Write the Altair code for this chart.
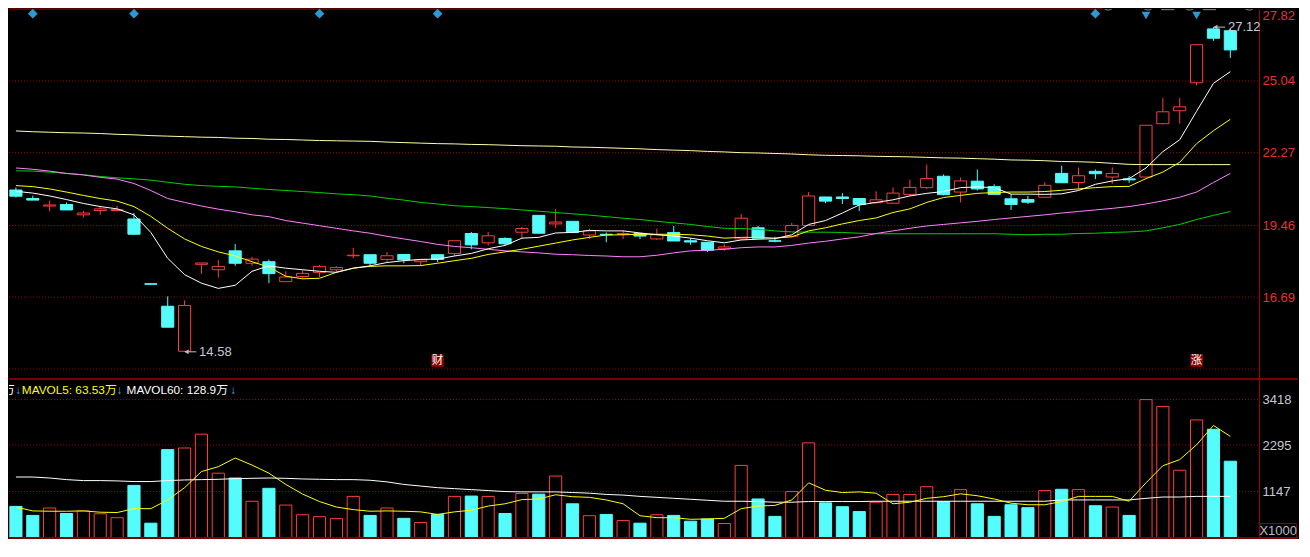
import altair as alt
import pandas as pd

# ---------------- data ----------------
opens = [20.83, 20.50, 20.21, 20.27, 19.87, 20.04, 20.04, 19.71, 17.21, 16.34,
         14.60, 17.96, 17.75, 18.48, 18.00, 18.06, 17.29, 17.49, 17.65, 17.75,
         18.29, 18.33, 18.15, 18.34, 18.06, 18.33, 18.38, 19.15, 18.79, 18.96,
         19.20, 19.85, 19.52, 19.62, 19.09, 19.12, 19.12, 19.15, 18.94, 19.19,
         18.87, 18.81, 18.56, 18.94, 19.37, 18.87, 19.04, 19.46, 20.56, 20.56,
         20.50, 20.34, 20.32, 20.66, 20.92, 21.36, 20.75, 21.17, 20.96, 20.49,
         20.46, 20.55, 21.47, 21.12, 21.55, 21.33, 21.26, 21.33, 23.39, 23.89,
         24.97, 27.05, 26.98]
highs = [20.93, 20.61, 20.42, 20.35, 20.02, 20.22, 20.22, 19.94, 17.21, 16.72,
         16.57, 18.01, 18.13, 18.74, 18.25, 18.14, 17.69, 17.73, 17.93, 17.88,
         18.59, 18.33, 18.44, 18.36, 18.15, 18.35, 18.87, 19.21, 19.21, 19.00,
         19.40, 19.85, 20.09, 19.62, 19.34, 19.19, 19.27, 19.15, 19.34, 19.44,
         18.97, 18.81, 18.73, 19.90, 19.44, 19.02, 19.56, 20.75, 20.56, 20.71,
         20.52, 20.78, 20.93, 21.23, 21.81, 21.43, 21.31, 21.62, 21.05, 20.67,
         20.60, 21.13, 21.77, 21.70, 21.62, 21.70, 21.37, 23.33, 24.39, 24.39,
         26.44, 27.12, 27.05]
lows = [20.54, 20.44, 20.00, 20.06, 19.76, 19.87, 20.00, 19.09, 17.19, 15.53,
        14.58, 17.59, 17.44, 17.90, 17.90, 17.23, 17.29, 17.42, 17.47, 17.65,
        18.19, 17.90, 18.06, 18.00, 17.90, 18.04, 18.28, 18.54, 18.69, 18.69,
        18.96, 19.16, 19.37, 19.16, 18.94, 18.81, 18.94, 18.94, 18.90, 18.86,
        18.71, 18.44, 18.48, 18.90, 18.97, 18.81, 19.00, 19.46, 20.32, 20.29,
        20.02, 20.29, 20.29, 20.59, 20.87, 20.62, 20.35, 20.81, 20.66, 20.06,
        20.29, 20.55, 21.11, 20.85, 21.25, 21.07, 21.11, 21.33, 23.37, 23.39,
        24.87, 26.59, 25.93]
closes = [20.59, 20.44, 20.25, 20.06, 19.94, 20.10, 20.07, 19.12, 17.19, 15.53,
          16.37, 18.01, 17.88, 18.00, 18.16, 17.60, 17.47, 17.61, 17.88, 17.84,
          18.31, 18.00, 18.29, 18.13, 18.13, 18.15, 18.87, 18.71, 19.06, 18.75,
          19.34, 19.16, 19.59, 19.19, 19.25, 19.10, 19.15, 19.05, 19.10, 18.86,
          18.82, 18.50, 18.63, 19.74, 18.97, 18.85, 19.46, 20.60, 20.40, 20.50,
          20.27, 20.45, 20.71, 20.93, 21.27, 20.65, 21.18, 20.87, 20.66, 20.27,
          20.36, 21.01, 21.11, 21.38, 21.46, 21.47, 21.22, 23.33, 23.85, 24.04,
          26.44, 26.69, 26.24]
ma5 = [20.78, 20.71, 20.60, 20.46, 20.31, 20.19, 20.10, 19.87, 19.19, 18.19,
       17.56, 17.23, 17.03, 17.15, 17.69, 17.90, 17.81, 17.75, 17.69, 17.65,
       17.81, 17.90, 18.03, 18.10, 18.15, 18.16, 18.28, 18.38, 18.56, 18.69,
       18.97, 19.00, 19.17, 19.19, 19.27, 19.25, 19.25, 19.17, 19.10, 19.05,
       18.97, 18.87, 18.79, 18.90, 18.93, 18.95, 19.10, 19.50, 19.65, 19.94,
       20.25, 20.35, 20.45, 20.60, 20.70, 20.77, 20.92, 20.95, 20.92, 20.67,
       20.67, 20.66, 20.68, 20.81, 21.05, 21.18, 21.27, 21.68, 22.31, 22.77,
       23.87, 24.95, 25.40]
ma10 = [21.00, 20.96, 20.87, 20.75, 20.62, 20.50, 20.40, 20.19, 19.81, 19.35,
        18.94, 18.65, 18.44, 18.28, 18.06, 17.85, 17.50, 17.40, 17.42, 17.65,
        17.81, 17.88, 17.90, 17.90, 17.91, 18.00, 18.10, 18.19, 18.34, 18.44,
        18.54, 18.66, 18.78, 18.90, 19.00, 19.09, 19.10, 19.12, 19.12, 19.12,
        19.10, 19.05, 18.97, 19.00, 19.00, 18.97, 19.02, 19.25, 19.37, 19.52,
        19.65, 19.75, 19.96, 20.10, 20.35, 20.54, 20.62, 20.70, 20.73, 20.75,
        20.75, 20.77, 20.82, 20.87, 20.92, 20.96, 20.97, 21.27, 21.52, 21.90,
        22.62, 23.12, 23.56]
ma30 = [21.68, 21.63, 21.56, 21.47, 21.41, 21.32, 21.25, 21.08, 20.81, 20.50,
        20.35, 20.21, 20.09, 19.99, 19.87, 19.80, 19.65, 19.55, 19.45, 19.35,
        19.25, 19.16, 19.04, 18.94, 18.84, 18.73, 18.65, 18.60, 18.54, 18.48,
        18.44, 18.40, 18.35, 18.33, 18.30, 18.28, 18.25, 18.25, 18.31, 18.40,
        18.48, 18.50, 18.54, 18.60, 18.63, 18.63, 18.69, 18.78, 18.85, 18.94,
        19.02, 19.15, 19.25, 19.35, 19.44, 19.50, 19.56, 19.62, 19.69, 19.75,
        19.81, 19.87, 19.94, 20.00, 20.06, 20.12, 20.19, 20.29, 20.41, 20.55,
        20.75, 21.12, 21.47]
ma60 = [21.57, 21.56, 21.52, 21.47, 21.42, 21.35, 21.30, 21.26, 21.21, 21.13,
        21.05, 21.00, 20.97, 20.95, 20.90, 20.85, 20.81, 20.77, 20.73, 20.68,
        20.65, 20.60, 20.51, 20.44, 20.35, 20.29, 20.22, 20.19, 20.15, 20.11,
        20.06, 20.01, 19.96, 19.91, 19.86, 19.80, 19.74, 19.69, 19.62, 19.56,
        19.50, 19.42, 19.35, 19.34, 19.31, 19.25, 19.21, 19.20, 19.20, 19.19,
        19.16, 19.14, 19.14, 19.14, 19.14, 19.14, 19.14, 19.14, 19.14, 19.12,
        19.10, 19.12, 19.12, 19.15, 19.16, 19.19, 19.21, 19.25, 19.37, 19.50,
        19.69, 19.85, 20.00]
ma120 = [23.11, 23.08, 23.06, 23.04, 23.03, 23.01, 22.98, 22.96, 22.93, 22.91,
         22.89, 22.87, 22.86, 22.83, 22.82, 22.79, 22.78, 22.76, 22.74, 22.73,
         22.72, 22.71, 22.68, 22.66, 22.64, 22.62, 22.61, 22.59, 22.58, 22.56,
         22.54, 22.53, 22.52, 22.49, 22.48, 22.46, 22.44, 22.42, 22.39, 22.37,
         22.35, 22.32, 22.30, 22.27, 22.26, 22.24, 22.22, 22.19, 22.17, 22.16,
         22.15, 22.13, 22.12, 22.11, 22.09, 22.07, 22.06, 22.04, 22.02, 21.99,
         21.98, 21.96, 21.93, 21.92, 21.90, 21.86, 21.82, 21.81, 21.81, 21.81,
         21.81, 21.81, 21.81]
volumes = [781, 558, 741, 605, 669, 598, 502, 1299, 366, 2183,
           2223, 2565, 1601, 1482, 908, 1227, 813, 574, 526, 478,
           1028, 558, 741, 486, 382, 582, 1028, 1036, 1028, 605,
           1099, 1083, 1530, 845, 550, 582, 430, 366, 574, 558,
           414, 470, 358, 1793, 964, 534, 1147, 2350, 868, 773,
           653, 884, 1076, 1076, 1267, 900, 1195, 845, 534, 821,
           749, 1171, 1203, 1195, 797, 765, 558, 3418, 3250, 1673,
           2916, 2685, 1896]
mavol5 = [765, 669, 661, 661, 669, 637, 629, 725, 725, 940,
          1243, 1641, 1761, 1976, 1801, 1601, 1323, 1084, 900, 765,
          701, 661, 669, 661, 645, 582, 645, 685, 789, 845,
          948, 964, 1068, 1020, 1004, 940, 845, 550, 502, 502,
          462, 470, 486, 725, 789, 805, 940, 1362, 1179, 1123,
          1139, 1107, 845, 884, 980, 1020, 1091, 1044, 964, 860,
          821, 821, 900, 1028, 1028, 1028, 908, 1362, 1785, 1936,
          2302, 2780, 2510]
mavol60 = [1506, 1506, 1482, 1442, 1418, 1418, 1410, 1394, 1394, 1418,
           1434, 1442, 1450, 1466, 1474, 1482, 1474, 1458, 1450, 1442,
           1442, 1426, 1386, 1323, 1283, 1243, 1219, 1195, 1171, 1147,
           1139, 1139, 1139, 1123, 1107, 1076, 1060, 1028, 1004, 980,
           956, 932, 908, 908, 900, 884, 884, 900, 900, 900,
           900, 908, 908, 908, 908, 908, 908, 908, 908, 908,
           908, 908, 940, 940, 940, 940, 940, 980, 1012, 1012,
           1028, 1028, 1028]

price_ticks = [27.82, 25.04, 22.27, 19.46, 16.69]
price_grid = [25.04, 22.27, 19.46, 16.69, 13.91]
vol_ticks = [3418, 2295, 1147]

low_mark = {"i": 10, "p": 14.58, "label": "14.58"}
high_mark = {"i": 71, "p": 27.12, "label": "27.12"}
diamond_days = [1, 7, 18, 25, 64]
triangle_days = [67, 70]
badge_days = [25, 70]
badge_texts = ["财", "涨"]
legend_texts = ["万", "↓", "MAVOL5: 63.53万", "↓", "MAVOL60: 128.9万", "↓"]
legend_colors = ["#FFFFFF", "#3FA8FF", "#FFFF00", "#3FA8FF", "#FFFFFF", "#3FA8FF"]
legend_x = [-0.06, -0.03, 0.35, 5.98, 6.56, 12.72]
icon_circle_x = [64.76, 67.12, 69.59, 73.12]
icon_square_x = [68.29, 70.76]

# ---------------- styling ----------------
FONT = "Liberation Sans, Arial, Noto Sans CJK SC, sans-serif"
RED = "#FF3C3C"
CYAN = "#54FCFC"
GRID = "#A00000"
LINE = "#A00000"
X_MIN, X_MAX = -0.41, 73.70
P_MIN, P_MAX = 13.53, 27.82
V_MAX = 3927
W = 1250
H_PRICE = 370
H_VOL = 159
HALF = 0.36

xs = alt.Scale(domain=[X_MIN, X_MAX], nice=False, zero=False)
ps = alt.Scale(domain=[P_MIN, P_MAX], nice=False, zero=False)
vs = alt.Scale(domain=[0, V_MAX], nice=False, zero=False)

price_axis = alt.Axis(orient="right", values=price_ticks, format=".2f", labelColor="#E83030",
                      labelFont=FONT, labelFontSize=13, ticks=False, domainColor=LINE,
                      domainWidth=1, grid=False, title=None, labelPadding=3, labelFlush=True)
vol_axis = alt.Axis(orient="right", values=vol_ticks, format="d", labelColor="#C8C8D2",
                    labelFont=FONT, labelFontSize=13, ticks=False, domainColor=LINE,
                    domainWidth=1, grid=False, title=None, labelPadding=3)


def X(f="i"):
    return alt.X(f"{f}:Q", scale=xs, axis=None)


def PY(f):
    return alt.Y(f"{f}:Q", scale=ps, axis=price_axis)


def VY(f):
    return alt.Y(f"{f}:Q", scale=vs, axis=vol_axis)


n = len(opens)
df = pd.DataFrame({
    "i": list(range(n)), "open": opens, "high": highs, "low": lows, "close": closes,
    "ma5": ma5, "ma10": ma10, "ma30": ma30, "ma60": ma60, "ma120": ma120,
    "vol": volumes, "mavol5": mavol5, "mavol60": mavol60,
})
df["zero"] = 0
up_df = df[df["close"] >= df["open"]]
dn_df = df[df["close"] < df["open"]]

# ---------------- price panel ----------------
grid = alt.Chart(pd.DataFrame({"p": price_grid})).transform_calculate(
    xa=str(X_MIN), xb=str(X_MAX)
).mark_rule(color=GRID, strokeDash=[1, 2], strokeWidth=1).encode(
    x=X("xa"), x2="xb:Q", y=PY("p"))

top_line = alt.Chart(pd.DataFrame({"p": [price_ticks[0]]})).transform_calculate(
    xa=str(X_MIN), xb="64.4"
).mark_rule(color="#B00000", strokeWidth=1).encode(x=X("xa"), x2="xb:Q", y=PY("p"))

up_base = alt.Chart(up_df)
dn_base = alt.Chart(dn_df)
wick_up_lo = up_base.mark_rule(color=RED, strokeWidth=1).encode(x=X(), y=PY("low"), y2="open:Q")
wick_up_hi = up_base.mark_rule(color=RED, strokeWidth=1).encode(x=X(), y=PY("close"), y2="high:Q")
body_up = up_base.transform_calculate(
    xa=f"datum.i - {HALF}", xb=f"datum.i + {HALF}"
).mark_rect(fillOpacity=0, stroke=RED, strokeWidth=1).encode(
    x=X("xa"), x2="xb:Q", y=PY("open"), y2="close:Q")
wick_dn = dn_base.mark_rule(color=CYAN, strokeWidth=1).encode(x=X(), y=PY("low"), y2="high:Q")
body_dn = dn_base.transform_calculate(
    xa=f"datum.i - {HALF}", xb=f"datum.i + {HALF}"
).mark_rect(color=CYAN, stroke=CYAN, strokeWidth=1).encode(
    x=X("xa"), x2="xb:Q", y=PY("open"), y2="close:Q")

base = alt.Chart(df)
l120 = base.mark_line(color="#FFFFA8", strokeWidth=1).encode(x=X(), y=PY("ma120"))
l60 = base.mark_line(color="#00D000", strokeWidth=1).encode(x=X(), y=PY("ma60"))
l30 = base.mark_line(color="#FF80FF", strokeWidth=1).encode(x=X(), y=PY("ma30"))
l10 = base.mark_line(color="#FFFF00", strokeWidth=1).encode(x=X(), y=PY("ma10"))
l5 = base.mark_line(color="#FFFFFF", strokeWidth=1).encode(x=X(), y=PY("ma5"))

marks_df = pd.DataFrame([low_mark, high_mark])
note_arrow = alt.Chart(marks_df).transform_calculate(
    xa="datum.i + 0.02", xb="datum.i + 0.7"
).mark_rule(color="#B8C0C8", strokeWidth=1).encode(x=X("xa"), x2="xb:Q", y=PY("p"))
note_head = alt.Chart(marks_df).transform_calculate(xa="datum.i + 0.12").mark_point(
    shape="triangle-left", filled=True, size=22, color="#B8C0C8", opacity=1
).encode(x=X("xa"), y=PY("p"))
note_text = alt.Chart(marks_df).transform_calculate(xa="datum.i + 0.86").mark_text(
    align="left", baseline="middle", font=FONT, fontSize=13, color="#C4CCD8"
).encode(x=X("xa"), y=PY("p"), text="label:N")

diam = alt.Chart(pd.DataFrame({"i": diamond_days})).transform_calculate(py="27.64").mark_point(
    shape="diamond", filled=True, size=95, color="#2C9AD2", opacity=1, clip=True
).encode(x=X(), y=PY("py"))
tri = alt.Chart(pd.DataFrame({"i": triangle_days})).transform_calculate(py="27.57").mark_point(
    shape="triangle-down", filled=True, size=75, color="#2C9AD2", opacity=1, clip=True
).encode(x=X(), y=PY("py"))
icons_c = alt.Chart(pd.DataFrame({"i": icon_circle_x})).transform_calculate(py="28.03").mark_point(
    shape="circle", filled=False, size=170, color="#8C8C8C", strokeWidth=1, opacity=1, clip=True
).encode(x=X(), y=PY("py"))
icons_s = alt.Chart(pd.DataFrame({"i": icon_square_x})).transform_calculate(py="28.03").mark_point(
    shape="square", filled=False, size=150, color="#8C8C8C", strokeWidth=1, opacity=1, clip=True
).encode(x=X(), y=PY("py"))

badge_df = pd.DataFrame({"i": badge_days, "t": badge_texts})
badge_box = alt.Chart(badge_df).transform_calculate(py="14.24").mark_point(
    shape="square", filled=True, size=160, color="#8C0000", opacity=1
).encode(x=X(), y=PY("py"))
badge_txt = alt.Chart(badge_df).transform_calculate(py="14.24").mark_text(
    font=FONT, fontSize=11.5, color="#FFFFFF", baseline="middle", align="center"
).encode(x=X(), y=PY("py"), text="t:N")

price = alt.layer(
    grid, top_line, wick_up_lo, wick_up_hi, body_up, wick_dn, body_dn,
    l120, l60, l30, l10, l5,
    note_arrow, note_head, note_text, diam, tri, icons_c, icons_s, badge_box, badge_txt,
).properties(width=W, height=H_PRICE)

# ---------------- volume panel ----------------
vgrid = alt.Chart(pd.DataFrame({"v": vol_ticks})).transform_calculate(
    xa=str(X_MIN), xb=str(X_MAX)
).mark_rule(color=GRID, strokeDash=[1, 2], strokeWidth=1).encode(
    x=X("xa"), x2="xb:Q", y=VY("v"))

sep_df = pd.DataFrame({"v": [V_MAX, 0], "c": ["#A00000", "#7A0000"], "w": [1.5, 2.0]})
seps = alt.Chart(sep_df).transform_calculate(xa=str(X_MIN), xb="76.0").mark_rule().encode(
    x=X("xa"), x2="xb:Q", y=VY("v"), color=alt.Color("c:N", scale=None),
    strokeWidth=alt.StrokeWidth("w:Q", scale=None))

vbar_up = alt.Chart(up_df).transform_calculate(
    xa=f"datum.i - {HALF}", xb=f"datum.i + {HALF}"
).mark_rect(fillOpacity=0, stroke=RED, strokeWidth=1).encode(
    x=X("xa"), x2="xb:Q", y=VY("zero"), y2="vol:Q")
vbar_dn = alt.Chart(dn_df).transform_calculate(
    xa=f"datum.i - {HALF}", xb=f"datum.i + {HALF}"
).mark_rect(color=CYAN, stroke=CYAN, strokeWidth=1).encode(
    x=X("xa"), x2="xb:Q", y=VY("zero"), y2="vol:Q")

vl60 = base.mark_line(color="#FFFFFF", strokeWidth=1).encode(x=X(), y=VY("mavol60"))
vl5 = base.mark_line(color="#FFFF00", strokeWidth=1).encode(x=X(), y=VY("mavol5"))

leg_df = pd.DataFrame({"t": legend_texts, "c": legend_colors, "i": legend_x})
leg_first = alt.Chart(leg_df.iloc[:1]).transform_calculate(v="3664").mark_text(
    align="right", baseline="middle", font=FONT, fontSize=11.8, clip=True
).encode(x=X(), y=VY("v"), text="t:N", color=alt.Color("c:N", scale=None))
leg_rest = alt.Chart(leg_df.iloc[1:]).transform_calculate(v="3664").mark_text(
    align="left", baseline="middle", font=FONT, fontSize=11.8
).encode(x=X(), y=VY("v"), text="t:N", color=alt.Color("c:N", scale=None))

unit_box = alt.Chart(pd.DataFrame({"t": ["X1000"]})).transform_calculate(
    xa="73.76", xb="75.92", ya="0", yb="358"
).mark_rect(fillOpacity=0, stroke="#8A0000", strokeWidth=1).encode(
    x=X("xa"), x2="xb:Q", y=VY("ya"), y2="yb:Q")
unit_txt = alt.Chart(pd.DataFrame({"t": ["X1000"]})).transform_calculate(
    xa="74.84", ya="180"
).mark_text(align="center", baseline="middle", font=FONT, fontSize=13, color="#B8BCC8").encode(
    x=X("xa"), y=VY("ya"), text="t:N")

volume = alt.layer(
    vgrid, vbar_up, vbar_dn, vl60, vl5, seps, leg_first, leg_rest, unit_box, unit_txt
).properties(width=W, height=H_VOL)

chart = alt.vconcat(price, volume, spacing=0, bounds="flush").properties(
    background="#000000", padding={"left": 0, "right": 0, "top": 0, "bottom": 0}
).configure_view(strokeWidth=0)

chart.save("out.html", embed_options={"renderer": "svg", "actions": False})
